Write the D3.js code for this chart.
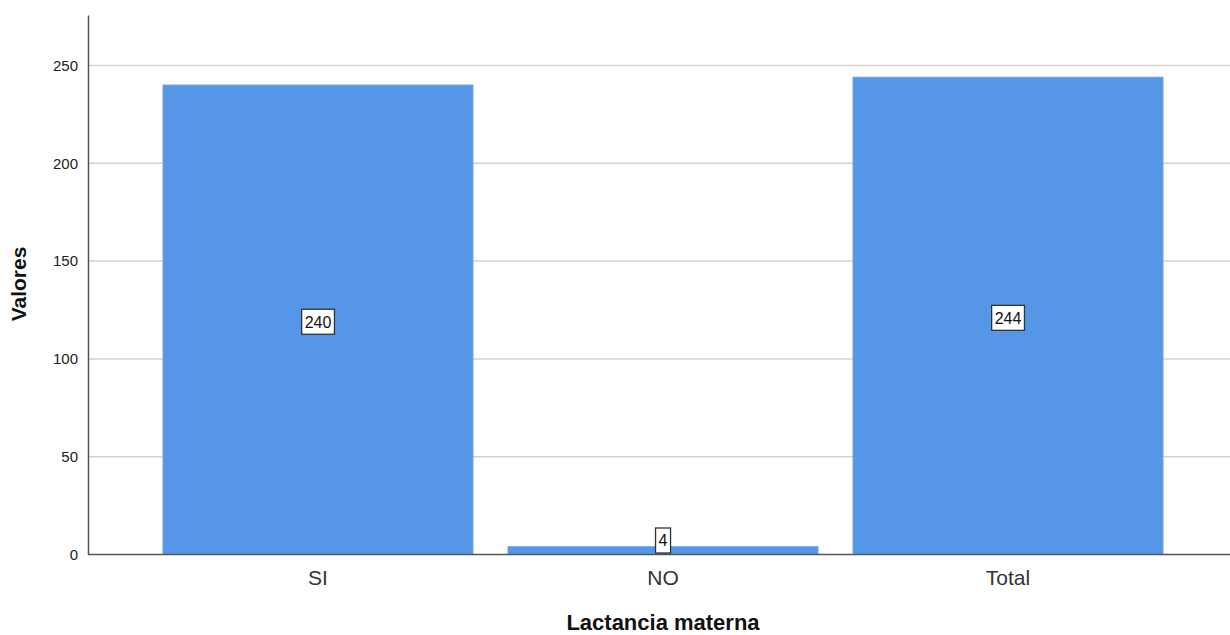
<!DOCTYPE html>
<html><head><meta charset="utf-8">
<script src="https://cdn.jsdelivr.net/npm/d3@7"></script>
<style>body{margin:0;background:#fff}svg{display:block}text{font-family:Arial,"Liberation Sans",sans-serif}</style>
</head><body><svg id="c" width="1230" height="635"></svg>
<script>
const categories = ["SI", "NO", "Total"];
const values = [240, 4, 244];
const yTicks = [0, 50, 100, 150, 200, 250];
const xTitle = "Lactancia materna";
const yTitle = "Valores";

const svg = d3.select("#c");
const pLeft = 88, pRight = 1230, pTop = 15, pBottom = 554.5;
const y = d3.scaleLinear().domain([0, 275.8]).range([pBottom, pTop]);
const x = d3.scaleBand().domain(categories).range([128, 1198]).padding(0.1014);

// gridlines
svg.append("g").selectAll("line").data(yTicks.filter(d => d > 0)).join("line")
  .attr("x1", pLeft).attr("x2", pRight).attr("y1", d => y(d)).attr("y2", d => y(d))
  .attr("stroke", "#d2d2d2").attr("stroke-width", 1.5);

// bars
svg.append("g").selectAll("rect").data(values).join("rect")
  .attr("x", (d, i) => x(categories[i])).attr("width", x.bandwidth())
  .attr("y", d => y(d)).attr("height", d => pBottom - y(d))
  .attr("fill", "#5596E6").attr("stroke", "#6fa6ea").attr("stroke-width", 1);

// axes
const yAxis = d3.axisLeft(y).tickValues(yTicks).tickSize(0).tickPadding(10);
const gy = svg.append("g").attr("transform", `translate(${pLeft},0)`).call(yAxis);
gy.select(".domain").attr("stroke", "#555").attr("stroke-width", 1.5);
gy.selectAll("text").attr("font-size", 15).attr("fill", "#222");

const xAxis = d3.axisBottom(x).tickSize(0).tickPadding(16);
const gx = svg.append("g").attr("transform", `translate(0,${pBottom})`).call(xAxis);
gx.select(".domain").attr("d", `M${pLeft},0H${pRight}`).attr("stroke", "#555").attr("stroke-width", 1.5);
gx.selectAll("text").attr("font-size", 21).attr("fill", "#333");

// value labels
const lab = svg.append("g").selectAll("g").data(values).join("g")
  .attr("transform", (d, i) => `translate(${x(categories[i]) + x.bandwidth() / 2},${Math.min(y(d / 2) + 2, pBottom - 14)})`);
lab.append("text").text(d => d).attr("text-anchor", "middle").attr("dy", "0.36em")
  .attr("font-size", 16).attr("fill", "#111");
lab.each(function () {
  const g = d3.select(this);
  const bb = g.select("text").node().getBBox();
  g.insert("rect", "text").attr("x", bb.x - 3).attr("y", -12.5).attr("width", bb.width + 6).attr("height", 25)
    .attr("fill", "#fff").attr("stroke", "#333").attr("stroke-width", 1.3);
});

// titles
svg.append("text").attr("x", 663).attr("y", 630).attr("text-anchor", "middle")
  .attr("font-size", 22).attr("font-weight", "bold").attr("fill", "#111").text(xTitle);
svg.append("text").attr("transform", "translate(26,284) rotate(-90)").attr("text-anchor", "middle")
  .attr("font-size", 21).attr("font-weight", "bold").attr("fill", "#111").text(yTitle);
</script></body></html>
